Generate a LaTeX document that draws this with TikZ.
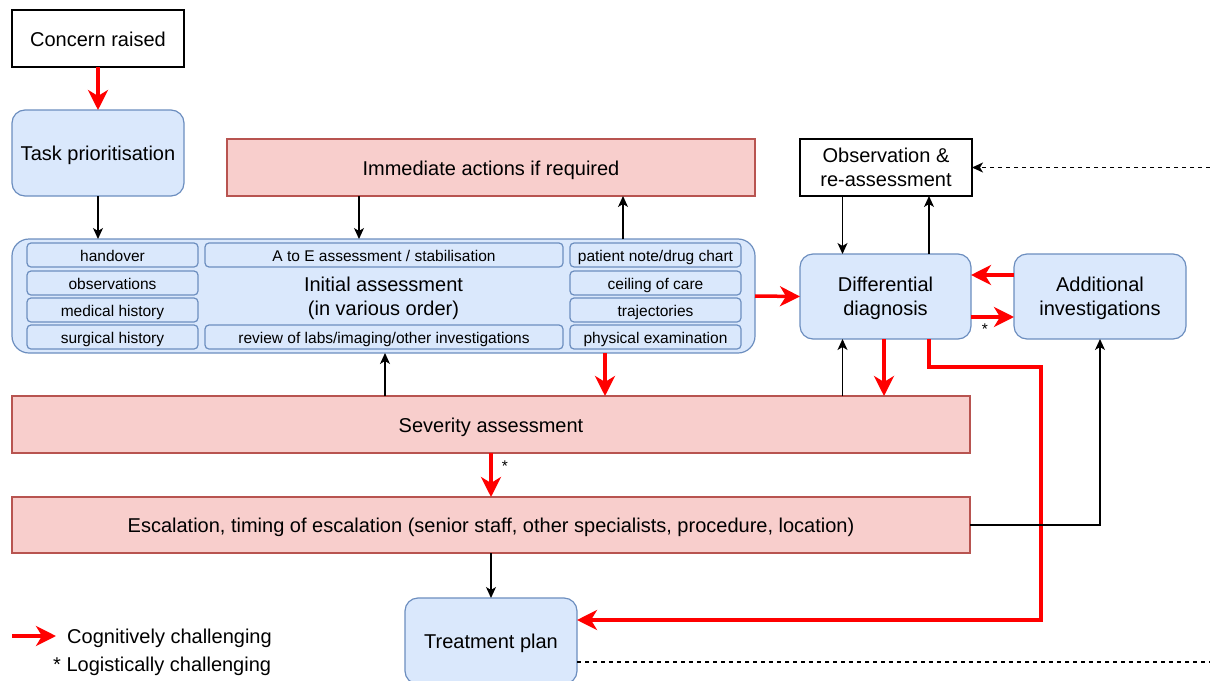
\documentclass[tikz,border=0pt]{standalone}
\usepackage{fontspec}
\setmainfont{Liberation Sans}
\usetikzlibrary{arrows.meta,calc}
\definecolor{bluefill}{HTML}{DAE8FC}
\definecolor{blueline}{HTML}{6C8EBF}
\definecolor{pinkfill}{HTML}{F8CECC}
\definecolor{pinkline}{HTML}{B85450}
\definecolor{hotred}{HTML}{FF0000}
\newcommand\flarge{\fontsize{20}{24}\selectfont}
\newcommand\fsmall{\fontsize{15.5}{19}\selectfont}
\tikzset{
  base/.style={inner sep=0pt, outer sep=0pt, align=center, line width=1.2pt, font=\flarge, text depth=0pt},
  oneline/.style={text height=15.2pt},
  plainbox/.style={base, draw=black, fill=white},
  bluebox/.style={base, draw=blueline, fill=bluefill, rounded corners=13pt},
  pinkbox/.style={base, draw=pinkline, fill=pinkfill},
  subbox/.style={base, draw=blueline, fill=bluefill, rounded corners=4pt, font=\fsmall,
    text height=12pt, minimum height=24pt},
  redarr/.style={draw=hotred, line width=3.5pt, -{Stealth[length=20pt,width=20pt,inset=6pt]}},
  redpath/.style={draw=hotred, line width=3.5pt, line join=miter},
  blkarr/.style={draw=black, line width=1.3pt, -{Stealth[length=11pt,width=10pt,inset=3pt]}},
  dashline/.style={draw=black, line width=1.3pt, dash pattern=on 4pt off 4pt},
  dasharr/.style={dashline, -{Stealth[length=11pt,width=10pt,inset=3pt]}},
  note/.style={inner sep=0pt, font=\flarge},
}
\begin{document}
\begin{tikzpicture}[x=1pt, y=-1pt]
\useasboundingbox (0,0) rectangle (1210,680);
\clip (0,0) rectangle (1210,680);

% top-left entry
\node[plainbox, oneline, minimum width=172pt, minimum height=57pt] (concern) at (98,38.5) {Concern raised};
\node[bluebox, oneline, minimum width=172pt, minimum height=86pt] (task) at (98,153) {Task prioritisation};
\node[pinkbox, oneline, minimum width=528pt, minimum height=57pt] (imm) at (491,167.5) {Immediate actions if required};

% initial assessment with its components
\node[bluebox, rounded corners=17pt, minimum width=743pt, minimum height=114pt] (init) at (383.5,296)
  {Initial assessment\\(in various order)};
\node[subbox, minimum width=171pt] (handover) at (112.5,255) {handover};
\node[subbox, minimum width=171pt] (obsv) at (112.5,283) {observations};
\node[subbox, minimum width=171pt] (medhx) at (112.5,310) {medical history};
\node[subbox, minimum width=171pt] (surghx) at (112.5,337) {surgical history};
\node[subbox, minimum width=358pt] (atoe) at (384,255) {A to E assessment / stabilisation};
\node[subbox, minimum width=358pt] (labs) at (384,337) {review of labs/imaging/other investigations};
\node[subbox, minimum width=171pt] (notes) at (655.5,255) {patient note/drug chart};
\node[subbox, minimum width=171pt] (ceiling) at (655.5,283) {ceiling of care};
\node[subbox, minimum width=171pt] (traj) at (655.5,310) {trajectories};
\node[subbox, minimum width=171pt] (exam) at (655.5,337) {physical examination};

% right-hand cluster
\node[plainbox, minimum width=172pt, minimum height=57pt] (obs) at (886,167.5) {Observation \&\\re-assessment};
\node[bluebox, minimum width=171pt, minimum height=85pt] (diff) at (885.5,296.5) {Differential\\diagnosis};
\node[bluebox, minimum width=172pt, minimum height=85pt] (add) at (1100,296.5) {Additional\\investigations};

% lower bars
\node[pinkbox, oneline, minimum width=958pt, minimum height=57pt] (sev) at (491,424.5) {Severity assessment};
\node[pinkbox, oneline, minimum width=958pt, minimum height=56pt] (esc) at (491,525)
  {Escalation, timing of escalation (senior staff, other specialists, procedure, location)};
\node[bluebox, oneline, minimum width=172pt, minimum height=86pt] (treat) at (491,641) {Treatment plan};

% connectors
\draw[redarr] (concern.south) -- (task.north);
\draw[blkarr] (task.south) -- (task.south |- init.north);
\draw[blkarr] ([xshift=132pt]imm.south west) -- ([xshift=132pt]imm.south west |- init.north);
\draw[blkarr] ([xshift=-132pt]imm.south east |- init.north) -- ([xshift=-132pt]imm.south east);
\draw[redarr] (init.east) -- (diff.west);
\draw[blkarr] ([xshift=-43pt]diff.north |- obs.south) -- ([xshift=-43pt]diff.north);
\draw[blkarr] ([xshift=43.5pt]diff.north) -- ([xshift=43.5pt]diff.north |- obs.south);
\draw[redarr] ([yshift=21.5pt]add.west) -- ([yshift=21.5pt]add.west -| diff.east);
\draw[redarr] ([yshift=-20.5pt]diff.east) -- ([yshift=-20.5pt]diff.east -| add.west);
\node[note, font=\fsmall] (star1) at (985,329) {*};
\draw[blkarr] ([xshift=-43pt]diff.south |- sev.north) -- ([xshift=-43pt]diff.south);
\draw[redarr] ([xshift=-1.5pt]diff.south) -- ([xshift=-1.5pt]diff.south |- sev.north);
\draw[redpath, -{Stealth[length=20pt,width=20pt,inset=6pt]}]
  ([xshift=43.5pt]diff.south) -- ++(0,28) -- ++(112,0) |- ([yshift=21pt]treat.east);
\draw[blkarr] ([xshift=1.5pt]init.south |- sev.north) -- ([xshift=1.5pt]init.south);
\draw[redarr] ([xshift=221.5pt]init.south) -- ([xshift=221.5pt]init.south |- sev.north);
\draw[redarr] (sev.south) -- (esc.north);
\node[note, font=\fsmall] (star2) at (505,466) {*};
\draw[blkarr] (esc.south) -- (treat.north);
\draw[blkarr] (esc.east) -| (add.south);

% feedback lines running off the right edge
\coordinate (obsfeed) at (1210,167.5);
\draw[dasharr] (obsfeed) -- (obs.east);
\coordinate (planout) at (1210,662);
\draw[dashline] ([yshift=-21pt]treat.east) -- (planout);

% legend
\coordinate (legS) at (12,636);
\coordinate (legE) at (56,636);
\draw[redarr] (legS) -- (legE);
\node[note, anchor=base west] (leg1) at (67,643.5) {Cognitively challenging};
\node[note, anchor=base west] (leg2) at (53,671.5) {* Logistically challenging};
\end{tikzpicture}
\end{document}
